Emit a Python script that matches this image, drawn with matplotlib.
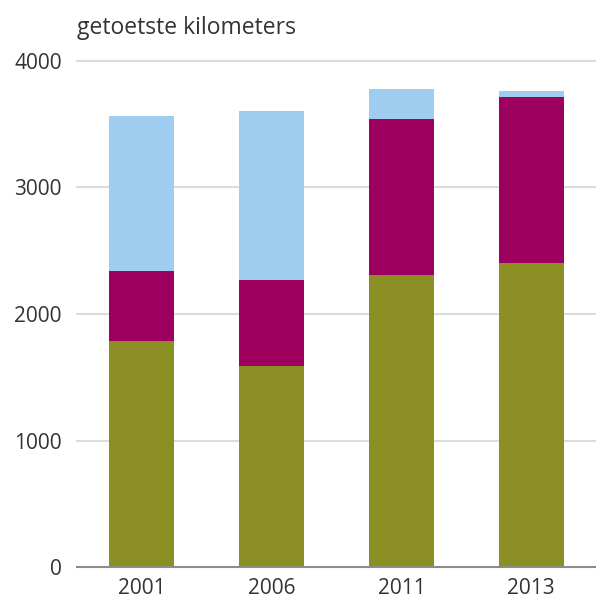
import matplotlib
matplotlib.use("Agg")
import matplotlib.pyplot as plt
import numpy as np

jaren = ["2001", "2006", "2011", "2013"]
olijf = [1790, 1590, 2305, 2405]
paars = [550, 680, 1235, 1310]
blauw = [1225, 1330, 235, 45]

kleuren = ["#8b8e22", "#9e0060", "#9ecdf0"]

plt.rcParams['font.family'] = ['Open Sans', 'DejaVu Sans']

fig = plt.figure(figsize=(5.96, 6.02), dpi=100)
ax = fig.add_axes([0.1292, 0.0576, 0.8708, 0.8417])

x = np.arange(len(jaren))
onder = np.zeros(len(jaren))
for waarden, kleur in zip([olijf, paars, blauw], kleuren):
    ax.bar(x, waarden, width=0.5, bottom=onder, color=kleur, zorder=2)
    onder = onder + np.array(waarden)

ax.set_xlim(-0.5, 3.5)
ax.set_ylim(0, 4000)
ax.set_yticks([0, 1000, 2000, 3000, 4000])
ax.set_xticks(x)
ax.set_xticklabels(jaren)

for y in [1000, 2000, 3000, 4000]:
    ax.axhline(y, color="#dcdcdc", lw=1.5, zorder=1, clip_on=False)
ax.axhline(0, color="#8c8c8c", lw=1.5, zorder=3, clip_on=False)

for s in ax.spines.values():
    s.set_visible(False)
ax.tick_params(length=0, labelsize=15, colors="#333333")
ax.tick_params(axis="y", pad=11)
ax.tick_params(axis="x", pad=8)

fig.text(0.1292, 0.953, "getoetste kilometers", fontsize=16.5, color="#333333",
         ha="left", va="center")

fig.savefig("out.png", dpi=100)
